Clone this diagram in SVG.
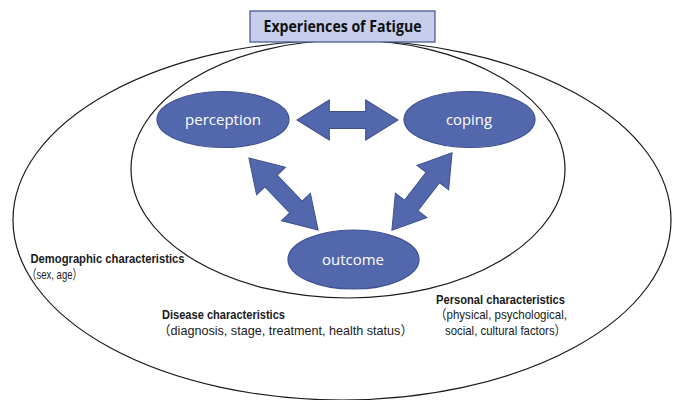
<svg xmlns="http://www.w3.org/2000/svg" width="677" height="400" viewBox="0 0 677 400">
<style>
.ring{fill:none;stroke:#1a1a1a;stroke-width:1.2}
.node{fill:#5367AD;stroke:#3E5193;stroke-width:1.2}
.arr{fill:#5367AD;stroke:#3E5193;stroke-width:1}
.lbl{font-family:"Open Sans","Noto Sans",sans-serif;font-size:15px;fill:#ffffff;text-anchor:middle}
.h{font-family:"Liberation Sans","Noto Sans CJK JP",sans-serif;font-size:13px;font-weight:bold;fill:#1a1a1a}
.t{font-family:"Liberation Sans","Noto Sans CJK JP",sans-serif;font-size:13px;fill:#1a1a1a}
.title{font-family:"Open Sans","Noto Sans",sans-serif;font-size:16px;font-weight:bold;fill:#111111;text-anchor:middle}
</style>
<defs>
<polygon id="dbl" points="-50,0 -18,-20 -18,-8.5 18,-8.5 18,-20 50,0 18,20 18,8.5 -18,8.5 -18,20"/>
</defs>
<g id="outer-ring"><ellipse class="ring" cx="342" cy="220" rx="329" ry="180"/></g>
<g id="inner-ring"><ellipse class="ring" cx="348" cy="169" rx="217" ry="129"/></g>
<g id="title">
<rect x="250" y="11" width="185" height="31" fill="#C6CEEB" stroke="#41508C" stroke-width="1.2"/>
<text class="title" x="342.5" y="32" textLength="158" lengthAdjust="spacingAndGlyphs">Experiences of Fatigue</text>
</g>
<g id="connectors">
<use href="#dbl" class="arr" transform="translate(347.5,120) scale(1.01,1)"/>
<use href="#dbl" class="arr" transform="translate(283.5,194) rotate(46.2)"/>
<use href="#dbl" class="arr" transform="translate(422,191.5) rotate(-52.1) scale(0.98,1)"/>
</g>
<g id="perception">
<ellipse class="node" cx="223" cy="119.5" rx="66" ry="28"/>
<text class="lbl" x="223" y="125" textLength="76" lengthAdjust="spacingAndGlyphs">perception</text>
</g>
<g id="coping">
<ellipse class="node" cx="469.5" cy="119.5" rx="65.5" ry="28"/>
<text class="lbl" x="469" y="125" textLength="46" lengthAdjust="spacingAndGlyphs">coping</text>
</g>
<g id="outcome">
<ellipse class="node" cx="353.5" cy="259.5" rx="65.5" ry="29.5"/>
<text class="lbl" x="353" y="265" textLength="62" lengthAdjust="spacingAndGlyphs">outcome</text>
</g>
<g id="demographic">
<text class="h" x="30.5" y="263" textLength="154" lengthAdjust="spacingAndGlyphs">Demographic characteristics</text>
<text class="t" x="27" y="279" textLength="55" lengthAdjust="spacingAndGlyphs">（sex, age）</text>
</g>
<g id="disease">
<text class="h" x="162" y="319" textLength="123" lengthAdjust="spacingAndGlyphs">Disease characteristics</text>
<text class="t" x="158" y="335" textLength="255" lengthAdjust="spacingAndGlyphs">（diagnosis, stage, treatment, health status）</text>
</g>
<g id="personal">
<text class="h" x="436" y="303.5" textLength="129" lengthAdjust="spacingAndGlyphs">Personal characteristics</text>
<text class="t" x="435" y="319" textLength="132" lengthAdjust="spacingAndGlyphs">（physical, psychological,</text>
<text class="t" x="445" y="334.5" textLength="121" lengthAdjust="spacingAndGlyphs">social, cultural factors）</text>
</g>
</svg>
